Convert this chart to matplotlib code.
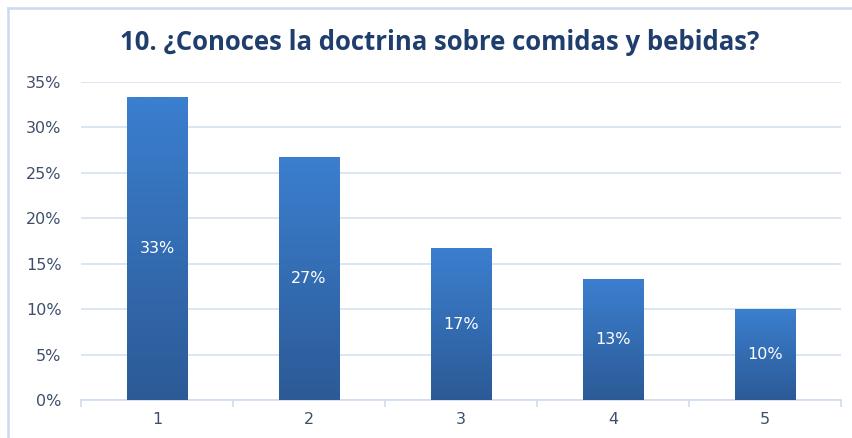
import numpy as np
import matplotlib.pyplot as plt
from matplotlib.lines import Line2D
from matplotlib.colors import LinearSegmentedColormap
from matplotlib.ticker import FuncFormatter

plt.rcParams['font.family'] = ['DejaVu Sans']

categorias = ['1', '2', '3', '4', '5']
valores = [33.3, 26.7, 16.7, 13.3, 10.0]
etiquetas = ['33%', '27%', '17%', '13%', '10%']
titulo = '10. ¿Conoces la doctrina sobre comidas y bebidas?'

fig = plt.figure(figsize=(8.53, 4.38), dpi=100)
ax = fig.add_axes([81 / 853, 38 / 438, 760 / 853, 318 / 438])

# marco del gráfico (solo se ve arriba e izquierda)
borde = '#CCDAEE'
fig.add_artist(Line2D([8 / 853, 1], [1 - 8 / 438, 1 - 8 / 438],
                      transform=fig.transFigure, color=borde, linewidth=1.8))
fig.add_artist(Line2D([8 / 853, 8 / 853], [0, 1 - 8 / 438],
                      transform=fig.transFigure, color=borde, linewidth=1.8))

x = np.arange(len(categorias))
ancho = 0.395
barras = ax.bar(x, valores, width=ancho, color='none', edgecolor='none', zorder=3)

# degradado vertical en cada barra
cmap = LinearSegmentedColormap.from_list('grad', ['#2C5A96', '#3B7FCF'])
grad = np.linspace(0, 1, 256).reshape(-1, 1)
for b in barras:
    x0, y0 = b.get_x(), b.get_y()
    w, h = b.get_width(), b.get_height()
    im = ax.imshow(grad, cmap=cmap, aspect='auto', origin='lower',
                   extent=[x0, x0 + w, y0, y0 + h], zorder=3)
    im.set_clip_path(b)

for i, v in enumerate(valores):
    ax.text(x[i], v / 2, etiquetas[i], ha='center', va='center',
            color='white', fontsize=11.5, zorder=4)

ax.set_xlim(-0.5, len(categorias) - 0.5)
ax.set_ylim(0, 35)
ax.set_yticks(np.arange(0, 36, 5))
ax.yaxis.set_major_formatter(FuncFormatter(lambda v, p: f'{int(v)}%'))
ax.set_xticks(x)
ax.set_xticklabels(categorias)
ax.set_xticks(np.arange(-0.5, len(categorias), 1), minor=True)

ax.grid(axis='y', color='#D6E1F1', linewidth=1.2, zorder=0)
ax.set_axisbelow(True)
for s in ['top', 'right', 'left']:
    ax.spines[s].set_visible(False)
ax.spines['bottom'].set_color('#CFDBEC')
ax.spines['bottom'].set_linewidth(1.2)

ax.tick_params(axis='y', length=0, pad=14, labelsize=11.5, labelcolor='#3F4F6B')
ax.tick_params(axis='x', which='major', length=0, pad=9, labelsize=11.5, labelcolor='#3F4F6B')
ax.tick_params(axis='x', which='minor', length=5, color='#CFDBEC', width=1.2)

fig.text(440 / 853, 1 - 43 / 438, titulo, ha='center', va='center',
         fontsize=18.5, fontweight='bold', color='#1F3E6E', family='Open Sans')

fig.savefig('out.png', dpi=100)
